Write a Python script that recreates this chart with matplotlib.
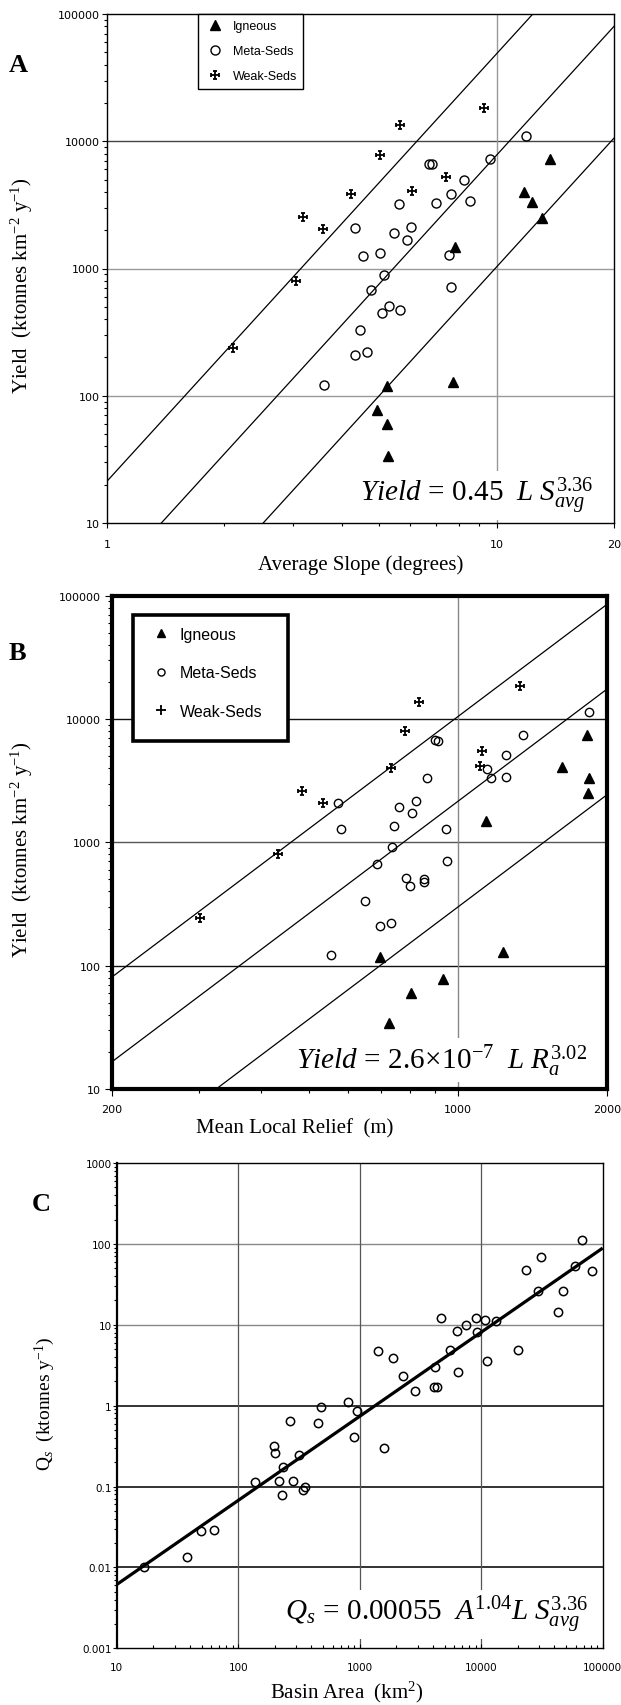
import numpy as np
import matplotlib
matplotlib.use('Agg')
import matplotlib.pyplot as plt
from matplotlib.path import Path
from matplotlib.patches import Rectangle
from matplotlib.ticker import NullFormatter, LogLocator

plt.rcParams['mathtext.fontset'] = 'custom'
plt.rcParams['mathtext.rm'] = 'Liberation Serif'
plt.rcParams['mathtext.it'] = 'Liberation Serif:italic'
plt.rcParams['mathtext.bf'] = 'Liberation Serif:bold'

SERIF = 'Liberation Serif'
SANS = 'Liberation Sans'
TICKF = 'DejaVu Sans'

# ---------------- data ----------------
# Panel A : yield vs average slope
A_ign_slope = [13.73, 11.75, 12.32, 13.10, 7.80, 7.73, 5.22, 4.94, 5.23, 5.25]
A_ign_yield = [7240, 4000, 3340, 2480, 1480, 129, 118.5, 77.6, 59.9, 33.8]
A_meta_slope = [11.92, 9.63, 6.71, 6.84, 8.25, 7.62, 6.98, 5.62, 8.53, 4.32, 5.45, 6.02, 5.87,
                4.54, 5.03, 7.53, 5.14, 4.75, 7.65, 5.29, 5.09, 5.64, 4.45, 4.34, 4.65, 3.60]
A_meta_yield = [11030, 7240, 6610, 6610, 4950, 3840, 3300, 3220, 3370, 2070, 1900, 2100, 1680,
                1260, 1320, 1270, 896, 676, 710, 504, 444, 474, 330, 210, 219, 122]
A_weak_slope = [2.10, 3.06, 3.19, 3.59, 4.24, 5.01, 5.66, 6.07, 7.39, 9.28]
A_weak_yield = [237, 796, 2560, 2040, 3840, 7820, 13450, 4030, 5200, 18100]
A_line_coef = [21.3, 3.4, 0.45]
A_line_exp = 3.36
A_xticks = [1, 10, 20]
A_yticks = [10, 100, 1000, 10000, 100000]

# Panel B : yield vs mean local relief
B_ign_relief = [1821, 1626, 1840, 1830, 1143, 1233, 695, 932, 805, 725]
B_ign_yield = [7470, 4060, 3330, 2500, 1500, 130, 118, 78, 59.7, 34.3]
B_meta_relief = [1840, 1356, 898, 913, 1249, 1253, 1146, 1165, 867, 573, 762, 825, 809, 582,
                 742, 947, 737, 687, 952, 787, 800, 856, 856, 649, 697, 733, 555]
B_meta_yield = [11350, 7470, 6770, 6680, 5110, 3410, 3940, 3330, 3300, 2090, 1950, 2150, 1720,
                1284, 1351, 1284, 913, 668, 711, 514, 445, 505, 476, 337, 211, 221, 123]
B_weak_relief = [301, 433, 484, 533, 734, 781, 834, 1111, 1120, 1334]
B_weak_yield = [242, 805, 2610, 2090, 3990, 8050, 13840, 4190, 5480, 18660]
B_line_coef = [9.1e-6, 1.87e-6, 2.6e-7]
B_line_exp = 3.02
B_xticks = [200, 1000, 2000]
B_yticks = [10, 100, 1000, 10000, 100000]

# Panel C : sediment flux vs basin area
C_area = [16.8, 37.7, 49.4, 63.6, 138, 197, 201, 235, 218, 228, 267, 284, 317, 355, 343, 456,
          478, 806, 945, 903, 1585, 1407, 1890, 2285, 2853, 4111, 4302, 4167, 5537, 4669, 6286,
          7455, 6479, 9061, 9288, 10750, 13160, 11230, 19970, 23370, 30890, 29510, 47400,
          42630, 59160, 67190, 81210]
C_qs = [0.0100, 0.0133, 0.0284, 0.0292, 0.113, 0.319, 0.257, 0.173, 0.116, 0.0792, 0.651,
        0.116, 0.247, 0.0994, 0.0905, 0.604, 0.953, 1.117, 0.850, 0.413, 0.297, 4.69, 3.84,
        2.34, 1.50, 1.71, 1.71, 2.97, 4.91, 12.1, 8.29, 10.0, 2.58, 12.1, 8.05, 11.5, 11.2,
        3.53, 4.87, 47.9, 68.1, 25.9, 26.3, 14.5, 53.6, 112, 46.5]
C_fit_coef = 0.00056
C_fit_exp = 1.04
C_xticks = [10, 100, 1000, 10000, 100000]
C_yticks = [0.001, 0.01, 0.1, 1, 10, 100, 1000]

labels = ['Igneous', 'Meta-Seds', 'Weak-Seds']

# cross marker with end caps
_v = [(-1, 0), (1, 0), (0, -1), (0, 1),
      (-1, -0.42), (-1, 0.42), (1, -0.42), (1, 0.42),
      (-0.42, 1), (0.42, 1), (-0.42, -1), (0.42, -1)]
CROSS = Path(_v, [Path.MOVETO, Path.LINETO] * 6)

W, H = 621, 1706
fig = plt.figure(figsize=(W / 100, H / 100), dpi=100)


def add_axes(l, r, t, b):
    return fig.add_axes([l / W, 1 - b / H, (r - l) / W, (b - t) / H])


def fmt(v):
    return f'{v:g}'


def setup_log(ax, xlim, ylim, xt, yt):
    ax.set_xscale('log')
    ax.set_yscale('log')
    ax.set_xticks(xt, labels=[fmt(v) for v in xt])
    ax.set_yticks(yt, labels=[fmt(v) for v in yt])
    ax.xaxis.set_minor_locator(LogLocator(base=10, subs=np.arange(2, 10)))
    ax.yaxis.set_minor_locator(LogLocator(base=10, subs=np.arange(2, 10)))
    ax.xaxis.set_minor_formatter(NullFormatter())
    ax.yaxis.set_minor_formatter(NullFormatter())
    ax.set_xlim(*xlim)
    ax.set_ylim(*ylim)
    for lab in ax.get_xticklabels() + ax.get_yticklabels():
        lab.set_family(TICKF)


# ---------------- Panel A ----------------
axA = add_axes(107, 614, 15, 524)
setup_log(axA, (1, 20), (10, 1e5), A_xticks, A_yticks)
for v, c in zip([100, 1000, 10000], ['#999999', '#999999', '#444444']):
    axA.axhline(v, color=c, lw=1, zorder=0.5)
axA.axvline(10, color='#999999', lw=1, zorder=0.5)
sA = np.logspace(0, np.log10(20), 300)
for c in A_line_coef:
    axA.plot(sA, c * sA ** A_line_exp, color='k', lw=0.9, zorder=2)
axA.plot(A_ign_slope, A_ign_yield, ls='none', marker='^', ms=7.2, color='k', label=labels[0], zorder=3)
axA.plot(A_meta_slope, A_meta_yield, ls='none', marker='o', ms=6.5, mfc='none', mec='k', mew=1.0,
         label=labels[1], zorder=3)
axA.plot(A_weak_slope, A_weak_yield, ls='none', marker=CROSS, ms=6, mfc='none', mec='k', mew=1.3,
         label=labels[2], zorder=3)
for sp in axA.spines.values():
    sp.set_linewidth(1.0)
axA.tick_params(which='both', direction='out', top=False, right=False, width=0.8)
axA.tick_params(which='major', length=3.5, labelsize=8)
axA.tick_params(which='minor', length=2)
axA.tick_params(axis='x', pad=8)
axA.tick_params(axis='y', pad=1.5)
legA = axA.legend(loc='upper left', bbox_to_anchor=((197.7 - 107) / 507, 1.0),
                  prop={'family': SANS, 'size': 9}, frameon=True, fancybox=False,
                  edgecolor='k', framealpha=1, borderpad=0.5, labelspacing=1.05,
                  handlelength=1.8, handletextpad=0.5, borderaxespad=0, markerscale=1.0)
legA.get_frame().set_linewidth(1.0)
axA.text(0.9586, 0.0426, r'$Yield\,=\,0.45\ \ L\ S_{avg}^{3.36}$', transform=axA.transAxes,
         ha='right', va='baseline', fontsize=21, zorder=2.2,
         bbox=dict(facecolor='white', edgecolor='none', pad=3))
axA.set_xlabel('Average Slope (degrees)', family=SERIF, fontsize=15)
axA.xaxis.set_label_coords(0.5, -(570.5 - 524) / 509)
axA.xaxis.label.set_va('baseline')

# ---------------- Panel B ----------------
axB = add_axes(112, 606.7, 596.7, 1090)
setup_log(axB, (200, 2000), (10, 1e5), B_xticks, B_yticks)
for v, c in zip([100, 1000, 10000], ['#111111', '#555555', '#111111']):
    axB.axhline(v, color=c, lw=1, zorder=0.5)
axB.axvline(1000, color='#888888', lw=1, zorder=0.5)
rB = np.logspace(np.log10(200), np.log10(2000), 300)
for c in B_line_coef:
    axB.plot(rB, c * rB ** B_line_exp, color='k', lw=0.9, zorder=2.5)
axB.plot(B_ign_relief, B_ign_yield, ls='none', marker='^', ms=6.6, color='k', label=labels[0], zorder=3)
axB.plot(B_meta_relief, B_meta_yield, ls='none', marker='o', ms=6.0, mfc='none', mec='k', mew=1.0,
         label=labels[1], zorder=3)
axB.plot(B_weak_relief, B_weak_yield, ls='none', marker=CROSS, ms=6, mfc='none', mec='k', mew=1.3,
         label=labels[2], zorder=3)
for sp in axB.spines.values():
    sp.set_linewidth(3.0)
axB.tick_params(which='both', direction='out', top=False, right=False, width=0.8)
axB.tick_params(which='major', length=5, labelsize=8)
axB.tick_params(which='minor', length=3)
axB.tick_params(axis='x', pad=6)
axB.tick_params(axis='y', pad=3)
axB.add_patch(Rectangle(((133.3 - 112) / 494.7, (1090 - 742.3) / 493.3), 155 / 494.7, 126.6 / 493.3,
                        transform=axB.transAxes, facecolor='white', edgecolor='k', lw=2.6,
                        zorder=4, clip_on=False))
legB = axB.legend(loc='upper left', bbox_to_anchor=((133.3 - 112) / 494.7, 1 - (615.7 - 596.7) / 493.3),
                  prop={'family': SANS, 'size': 11.5}, frameon=False, borderpad=0.75,
                  labelspacing=1.48, handlelength=2.0, handletextpad=0.15, borderaxespad=0,
                  markerscale=0.85)
legB.set_zorder(5)
axB.text(0.9596, 0.042, r'$Yield\,=\,2.6\!\times\! 10^{-7}\ \ L\ R_{a}^{3.02}$', transform=axB.transAxes,
         ha='right', va='baseline', fontsize=21, zorder=2.2,
         bbox=dict(facecolor='white', edgecolor='none', pad=3))
axB.set_xlabel(r'Mean Local Relief  (m)', family=SERIF, fontsize=15)
axB.xaxis.set_label_coords((294.5 - 112) / 494.7, -(1133 - 1090) / 493.3)
axB.xaxis.label.set_va('baseline')

# ---------------- Panel C ----------------
axC = add_axes(116.7, 602.7, 1164, 1649.3)
setup_log(axC, (10, 1e5), (0.001, 1000), C_xticks, C_yticks)
for v in [0.01, 0.1, 1]:
    axC.axhline(v, color='#111111', lw=1.2, zorder=0.5)
for v in [10, 100]:
    axC.axhline(v, color='#888888', lw=1.0, zorder=0.5)
for v in [100, 1000, 10000]:
    axC.axvline(v, color='#555555', lw=0.9, zorder=0.5)
aC = np.logspace(1, 5, 300)
axC.plot(aC, C_fit_coef * aC ** C_fit_exp, color='k', lw=2.3, zorder=2, solid_capstyle='butt')
axC.plot(C_area, C_qs, ls='none', marker='o', ms=6.0, mfc='none', mec='k', mew=1.1, zorder=3)
for sp in axC.spines.values():
    sp.set_linewidth(1.0)
axC.spines['left'].set_linewidth(1.6)
axC.tick_params(which='both', top=False, right=False, width=0.8)
axC.tick_params(axis='y', which='both', direction='out')
axC.tick_params(axis='x', which='both', direction='in')
axC.tick_params(which='major', length=3, labelsize=7.5)
axC.tick_params(which='minor', length=2)
axC.tick_params(axis='x', pad=10)
axC.tick_params(axis='y', pad=0.5)
axC.text(0.9704, 0.0569, r'$Q_s\,=\,0.00055\ \ A^{1.04} L\ S_{avg}^{3.36}$', transform=axC.transAxes,
         ha='right', va='baseline', fontsize=21, zorder=2.2,
         bbox=dict(facecolor='white', edgecolor='none', pad=3))
axC.set_xlabel(r'Basin Area  (km$^{2}$)', family=SERIF, fontsize=15)
axC.xaxis.set_label_coords((346.7 - 116.7) / 486, -(1698.3 - 1649.3) / 485.3)
axC.xaxis.label.set_va('baseline')

# ---------------- labels outside ----------------
fig.text(22 / W, 1 - 286 / H, r'Yield  (ktonnes km$^{-2}$ y$^{-1}$)', rotation=90,
         ha='center', va='center', family=SERIF, fontsize=15)
fig.text(22 / W, 1 - 850 / H, r'Yield  (ktonnes km$^{-2}$ y$^{-1}$)', rotation=90,
         ha='center', va='center', family=SERIF, fontsize=15)
fig.text(45 / W, 1 - 1404 / H, r'Q$_{s}$  (ktonnes y$^{-1}$)', rotation=90,
         ha='center', va='center', family=SERIF, fontsize=14)
for letter, (px, py) in zip(['A', 'B', 'C'], [(18.3, 65), (17.5, 654), (41.7, 1205)]):
    fig.text(px / W, 1 - py / H, letter, ha='center', va='center', family=SERIF,
             fontweight='bold', fontsize=19)

fig.savefig('out.png', dpi=100)
